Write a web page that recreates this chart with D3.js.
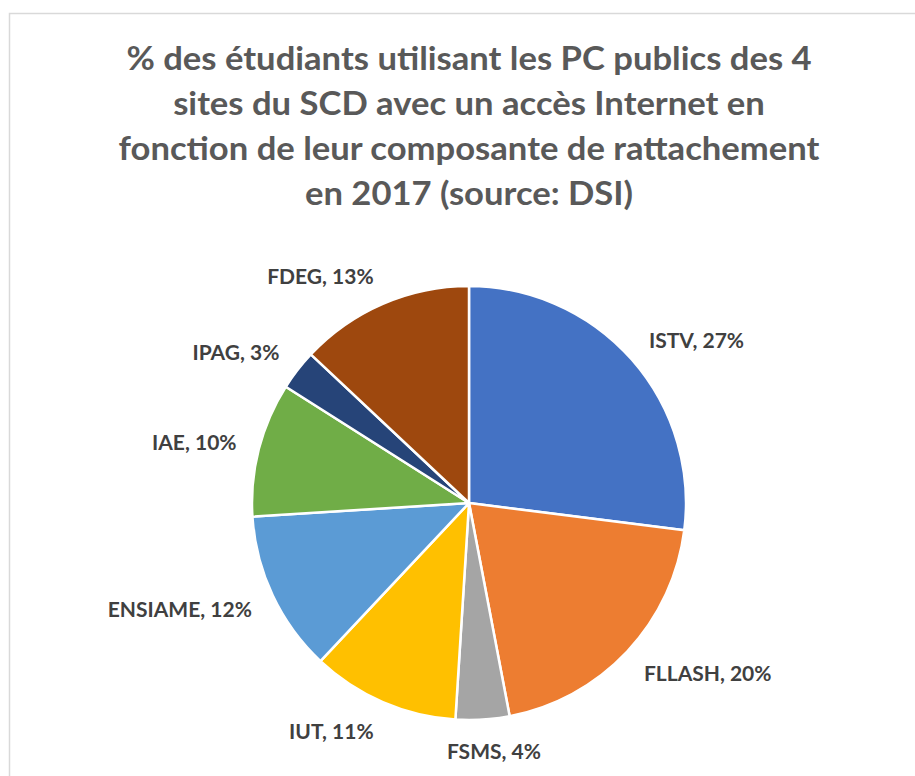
<!DOCTYPE html>
<html>
<head>
<meta charset="utf-8">
<script src="https://cdn.jsdelivr.net/npm/d3@7"></script>
<style>
  body { margin: 0; background: #fff; }
  text { font-family: Lato, "Open Sans", sans-serif; font-weight: bold; }
</style>
</head>
<body>
<svg id="chart" width="915" height="776"></svg>
<script>
// data
var categories = ["ISTV", "FLLASH", "FSMS", "IUT", "ENSIAME", "IAE", "IPAG", "FDEG"];
var values = [27, 20, 4, 11, 12, 10, 3, 13];
var colors = ["#4472C4", "#ED7D31", "#A5A5A5", "#FFC000", "#5B9BD5", "#70AD47", "#264478", "#9E480E"];
var titleLines = [
  "% des étudiants utilisant les PC publics des 4",
  "sites du SCD avec un accès Internet en",
  "fonction de leur composante de rattachement",
  "en 2017 (source: DSI)"
];

var W = 915, H = 776;
var cx = 469, cy = 503, R = 217;

var svg = d3.select("#chart");

// chart frame
svg.append("rect")
    .attr("x", 9.5)
    .attr("y", 13.5)
    .attr("width", W + 10)
    .attr("height", H + 10)
    .attr("fill", "none")
    .attr("stroke", "#d9d9d9")
    .attr("stroke-width", 1.5);

// title (a bit stretched sideways, the original font is wider per glyph height)
svg.append("g")
    .attr("transform", "translate(469,0) scale(1.065,1)")
    .selectAll("text")
    .data(titleLines)
    .enter()
    .append("text")
    .attr("x", 0)
    .attr("y", function(d, i){ return 70 + i * 45; })
    .attr("text-anchor", "middle")
    .attr("fill", "#595959")
    .attr("font-size", 32.5)
    .text(function(d){ return d; });

var pie = d3.pie().sort(null).value(function(d){ return d; });
var arcs = pie(values);
var arc = d3.arc().innerRadius(0).outerRadius(R);

var g = svg.append("g").attr("transform", "translate(" + cx + "," + cy + ")");

g.selectAll("path")
    .data(arcs)
    .enter()
    .append("path")
    .attr("d", arc)
    .attr("fill", function(d, i){ return colors[i]; })
    .attr("stroke", "#fff")
    .attr("stroke-width", 2.5)
    .attr("stroke-linejoin", "round");

// labels, outside end (box pushed out from the rim point at mid angle)
var gap = 23, lblH = 16;
var labels = g.selectAll("text.lbl")
    .data(arcs)
    .enter()
    .append("text")
    .attr("class", "lbl")
    .attr("font-size", 21)
    .attr("fill", "#404040")
    .attr("text-anchor", "middle")
    .attr("dominant-baseline", "central")
    .text(function(d, i){ return categories[i] + ", " + values[i] + "%"; });

labels.each(function(d){
    var a = (d.startAngle + d.endAngle) / 2;
    var s = Math.sin(a), c = Math.cos(a);
    var w = this.getBBox().width;
    var f = Math.max(-1, Math.min(1, s / 0.3));
    d3.select(this)
        .attr("x", R * s + w / 2 * f + gap * s)
        .attr("y", -R * c - (lblH / 2 + gap) * c);
});
</script>
</body>
</html>
